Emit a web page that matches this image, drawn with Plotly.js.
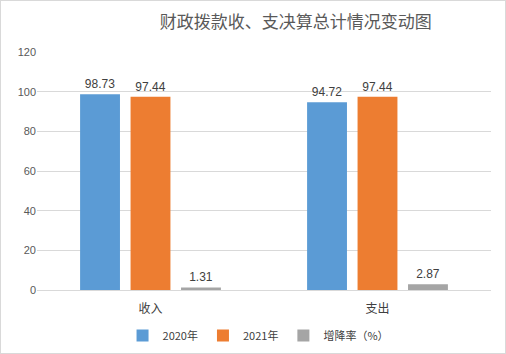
<!DOCTYPE html>
<html><head><meta charset="utf-8">
<script src="https://cdn.plot.ly/plotly-3.0.1.min.js"></script>
<style>html,body{margin:0;padding:0;background:#fff}#c{width:504px;height:352px;border:1px solid #d9d9d9}</style>
</head><body><div id="c"></div>
<script>
const categories = ['收入', '支出'];
const seriesNames = ['2020年', '2021年', '增降率（%）'];
const values2020 = [98.73, 94.72];
const values2021 = [97.44, 97.44];
const valuesRate = [1.31, 2.87];
const colors = ['#5b9bd5', '#ed7d31', '#a5a5a5'];
const FONT = 'Liberation Sans, Noto Sans CJK SC, sans-serif';
const series = [values2020, values2021, valuesRate];
const traces = series.map((v, i) => ({
  type: 'bar', x: categories, y: v, name: seriesNames[i],
  marker: {color: colors[i]},
  text: v.map(n => n.toFixed(2)), textposition: 'outside',
  textfont: {size: 12, color: '#404040', family: FONT},
  cliponaxis: false, hoverinfo: 'none'
}));
const layout = {
  width: 504, height: 352,
  margin: {l: 36, r: 14, t: 51, b: 63},
  paper_bgcolor: '#fff', plot_bgcolor: '#fff',
  title: {text: '财政拨款收、支决算总计情况变动图', x: 0.585, xanchor: 'center', y: 0.94, yanchor: 'middle',
    font: {size: 17, color: '#595959', family: 'Noto Sans CJK SC, sans-serif'}},
  barmode: 'group', bargap: 0.333, bargroupgap: 0.21,
  xaxis: {type: 'category', showline: true, linecolor: '#d9d9d9', ticks: '', showgrid: false,
    automargin: false, ticklabelstandoff: 8,
    tickfont: {size: 12, color: '#404040', family: 'Noto Sans CJK SC, sans-serif'}},
  yaxis: {range: [0, 120], dtick: 20, showgrid: true, gridcolor: '#d9d9d9', zeroline: false,
    showline: false, ticks: '', ticklen: 0, automargin: false,
    tickfont: {size: 11, color: '#595959', family: FONT}},
  showlegend: true,
  legend: {orientation: 'h', x: 0.51, xref: 'container', xanchor: 'center',
    y: 0.05, yref: 'container', yanchor: 'middle',
    font: {size: 11, color: '#404040', family: 'Noto Sans CJK SC, sans-serif'},
    itemwidth: 30, traceorder: 'normal'}
};
Plotly.newPlot('c', traces, layout, {displayModeBar: false, staticPlot: true});
</script></body></html>
